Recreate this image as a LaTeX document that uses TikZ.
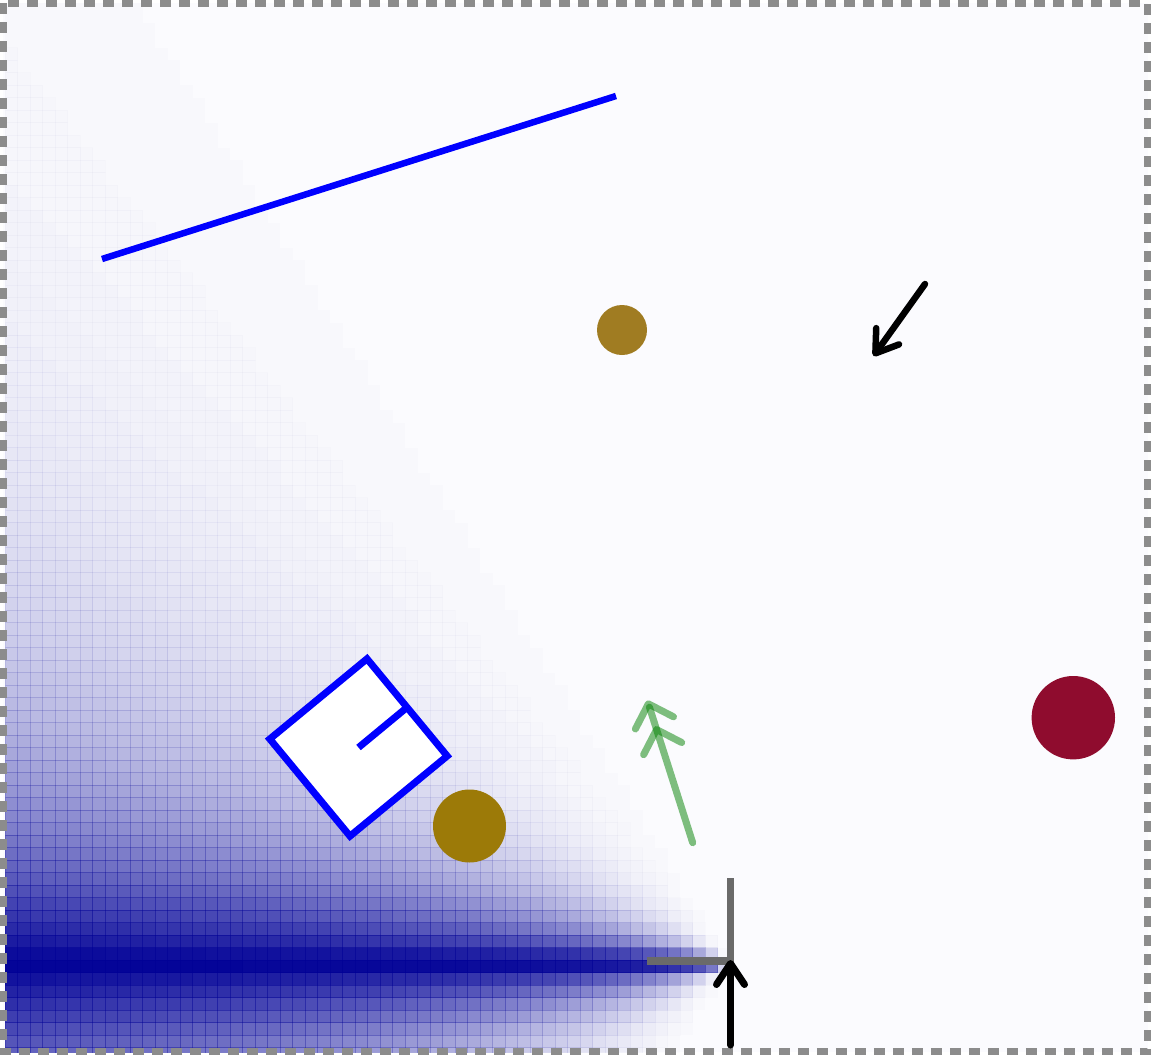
\documentclass[tikz,border=0pt]{standalone}
\usepackage{xcolor}
\usepackage{tikz}
\usetikzlibrary{arrows.meta}

\definecolor{fieldnavy}{RGB}{0,0,150}
\definecolor{fieldbg}{RGB}{251,251,254}
\definecolor{framegray}{RGB}{140,140,140}
\definecolor{wallblue}{RGB}{0,0,255}
\definecolor{ochre}{RGB}{160,124,34}
\definecolor{ochredark}{RGB}{156,122,8}
\definecolor{crimson}{RGB}{143,12,46}
\definecolor{cornergray}{RGB}{106,106,106}

\begin{document}
\begin{tikzpicture}[
    x=1pt, y=-1pt,
    cell/.style={fill=fieldnavy, draw=fieldnavy, line width=0.3pt},
    wall/.style={draw=wallblue, line width=6.5pt},
    arr/.style={-{Straight Barb[length=21pt, width=28pt, round]}, line width=6.5pt, line cap=round, line join=round},
    ghost/.style={-{Straight Barb[length=20pt, width=40pt, round, sep=0pt] Straight Barb[length=20pt, width=40pt, round]},
        draw=green!50!black, opacity=0.5, line width=7pt, line cap=round, line join=round}
]
\useasboundingbox (0,0) rectangle (1151,1055);
\fill[fieldbg] (3,3) rectangle (1148,1052);

\begin{scope}
  \clip (3,3) rectangle (1148,1052);
  \foreach \i in {0,...,57}{
    \foreach \j in {0,...,84}{
      \pgfmathsetmacro\cx{11.25+12.5*\i}
      \pgfmathsetmacro\cy{3.75+12.5*\j}
      \pgfmathsetmacro\ang{atan2(abs(\cy-963),730-\cx)}
      \ifdim\ang pt<64pt
        \pgfmathsetmacro\lvl{round(100*exp(-\ang/15)*(1-(\ang/64)^3))/100}
        \pgfmathsetmacro\seam{round(35*\lvl)/100}
        \ifdim\lvl pt>0pt
          \filldraw[cell, fill opacity=\lvl, draw opacity=\seam] (\cx-6.25,\cy-6.25) rectangle ++(12.5,12.5);
        \fi
      \fi
    }
  }
\end{scope}

\draw[framegray, line width=6.5pt, dash pattern=on 11pt off 8pt] (3.3,3.3) rectangle (1147.7,1051.7);

\draw[wall] (102,259) -- (616,96);

\fill[ochre] (622,330) circle[radius=25pt];
\fill[ochredark] (469.5,826) circle[radius=36.5pt];
\fill[crimson] (1073.3,717.7) circle[radius=41.7pt];

\coordinate (bot) at (358.5,747.5);
\coordinate (botnose) at (407.5,707);
\draw[wall, fill=white, line width=7pt] (367,658.8) -- (447.2,756) -- (350,836.1) -- (269.8,739) -- cycle;
\draw[wall, line width=7pt] (bot) -- (botnose);

\coordinate (ghostfrom) at (692.7,842.7);
\coordinate (ghostto) at (647.3,700.5);
\draw[ghost] (ghostfrom) -- (ghostto);

\coordinate (pushfrom) at (925,284);
\coordinate (pushto) at (873.5,356);
\draw[arr] (pushfrom) -- (pushto);

\coordinate (cornerL) at (647,961);
\coordinate (cornerK) at (730.5,961);
\coordinate (cornerT) at (730.5,878);
\draw[cornergray, line width=7.5pt] (cornerL) -- (cornerK) -- (cornerT);

\coordinate (sensorbase) at (730.5,1045);
\coordinate (sensor) at (730.5,960);
\draw[arr, line width=7pt] (sensorbase) -- (sensor);
\end{tikzpicture}
\end{document}
